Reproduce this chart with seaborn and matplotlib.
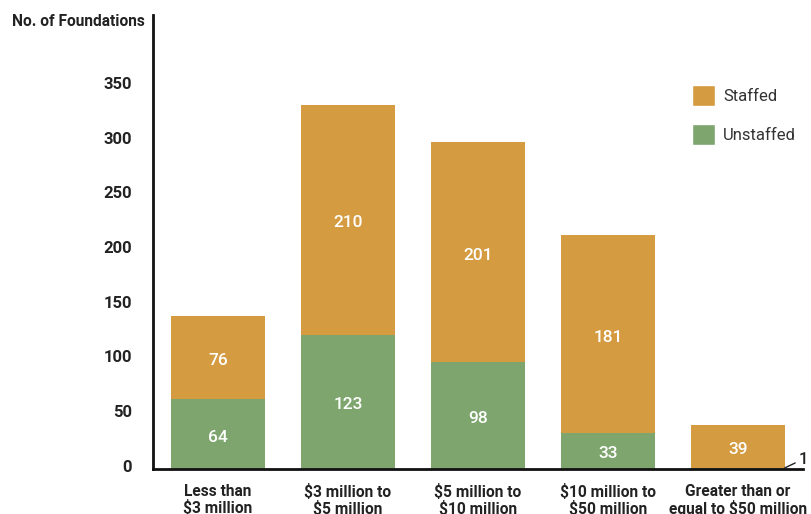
import matplotlib
matplotlib.use("Agg")
import matplotlib.pyplot as plt
import matplotlib.transforms as mtransforms
import seaborn as sns
import pandas as pd
from matplotlib.patches import Patch

categories = ["Less than\n$3 million", "$3 million to\n$5 million", "$5 million to\n$10 million",
              "$10 million to\n$50 million", "Greater than or\nequal to $50 million"]
unstaffed = [64, 123, 98, 33, 1]
staffed = [76, 210, 201, 181, 39]
yticks = [0, 50, 100, 150, 200, 250, 300, 350]

sns.set_theme(style="white")
plt.rcParams['font.family'] = ['Roboto', 'DejaVu Sans']

c_staff = "#D49B40"
c_unstaff = "#7EA56E"

df = pd.DataFrame({"cat": categories, "unstaffed": unstaffed, "staffed": staffed})
df["total"] = df["unstaffed"] + df["staffed"]

fig = plt.figure(figsize=(8.12, 5.14), dpi=100)
ax = fig.add_axes([153/812, 45/514, 650/812, 454/514])

sns.barplot(data=df, x="cat", y="total", color=c_staff, saturation=1, width=0.723, ax=ax, linewidth=0)
sns.barplot(data=df, x="cat", y="unstaffed", color=c_unstaff, saturation=1, width=0.723, ax=ax, linewidth=0)

ax.set_xlim(-0.5, 4.5)
ax.set_ylim(0, 415.4)
ax.set_yticks(yticks)
ax.set_yticklabels([str(t) for t in yticks], fontsize=12, fontweight="bold", color="#222222")
ax.set_xticks(range(len(categories)))
ax.set_xticklabels(categories, fontsize=11.2, fontweight="bold", color="#222222", linespacing=1.05)
ax.tick_params(axis="x", length=0, pad=11)
ax.tick_params(axis="y", length=0, pad=15)
ax.set_xlabel("")
ax.set_ylabel("")

# nudge y tick labels up slightly, as in the reference
up = mtransforms.ScaledTranslation(0, 3.5 / 100, fig.dpi_scale_trans)
for lab in ax.get_yticklabels():
    lab.set_transform(lab.get_transform() + up)

for s in ["top", "right"]:
    ax.spines[s].set_visible(False)
for s in ["left", "bottom"]:
    ax.spines[s].set_color("#111111")
    ax.spines[s].set_linewidth(2)

down = mtransforms.ScaledTranslation(0, -3 / 100, fig.dpi_scale_trans)
for i in range(len(categories)):
    u = unstaffed[i]
    s = staffed[i]
    if u >= 10:
        ax.text(i, u / 2, str(u), ha="center", va="center", color="white", fontsize=12.5,
                fontweight="medium", transform=ax.transData + down)
    ax.text(i, u + s / 2, str(s), ha="center", va="center", color="white", fontsize=12.5,
            fontweight="medium", transform=ax.transData + down)

# small-value annotation
ax.annotate(str(unstaffed[4]), xy=(4.36, 1), xytext=(4.465, 9), fontsize=12, fontweight="medium",
            color="#222222", ha="left", va="center", annotation_clip=False,
            arrowprops=dict(arrowstyle="-", color="#222222", lw=1, shrinkA=0, shrinkB=0))

fig.text(12/812, 1 - 22/514, "No. of Foundations", fontsize=11.2, fontweight="bold",
         color="#222222", ha="left", va="center")

handles = [Patch(facecolor=c_staff, label="Staffed"), Patch(facecolor=c_unstaff, label="Unstaffed")]
leg = fig.legend(handles=handles, loc="upper left", bbox_to_anchor=(679/812, 1 - 72/514),
                 frameon=False, fontsize=12, handlelength=1.35, handleheight=1.55,
                 labelspacing=1.05, handletextpad=0.5, borderpad=0.3)
for t in leg.get_texts():
    t.set_color("#333333")

fig.savefig("out.png", dpi=100)
